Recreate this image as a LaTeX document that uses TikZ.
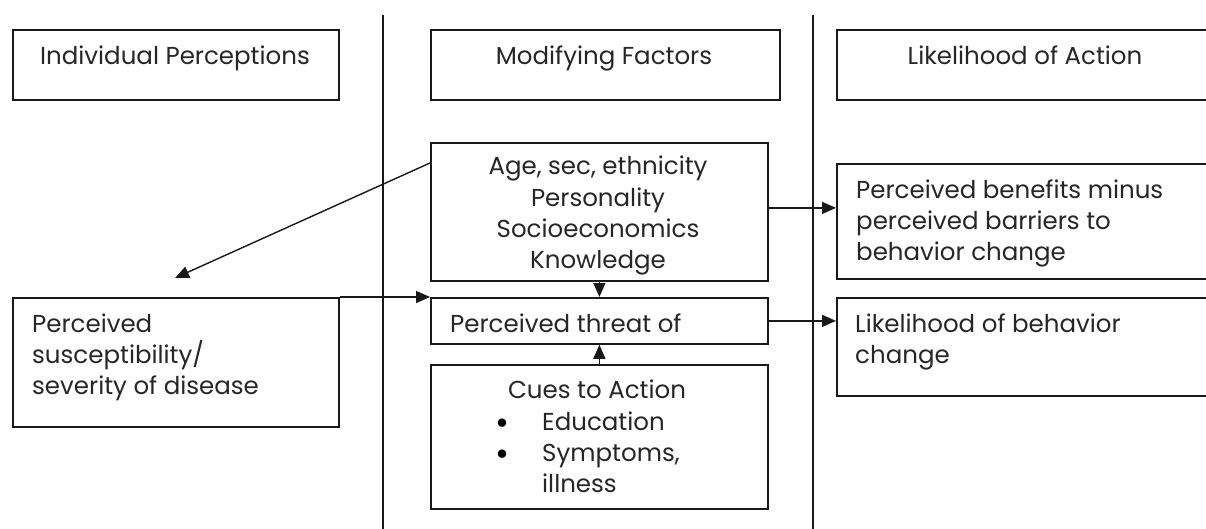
\documentclass[tikz,border=0pt]{standalone}
\usepackage{fontspec}
\setmainfont{Poppins}
\usetikzlibrary{arrows.meta}
\begin{document}
\begin{tikzpicture}[x=1pt,y=-1pt,
  box/.style={draw=black!90, line width=1.8pt, inner sep=0pt, anchor=north west},
  txt/.style={inner sep=0pt, text=black!85, font=\fontsize{24.5}{31}\selectfont},
  bul/.style={inner sep=0pt, text=black, font=\fontsize{34}{31}\selectfont},
  arr/.style={draw=black!90, line width=1.4pt, -{Triangle[length=14pt,width=12pt]}},
  divider/.style={line width=1.5pt, draw=black!90}]
\useasboundingbox (0,0) rectangle (1206,529);
\fill[white] (0,0) rectangle (1206,529);
\clip (0,0) rectangle (1206,529);
% dividers
\coordinate (d1t) at (383,15); \coordinate (d1b) at (383,529);
\coordinate (d2t) at (813,15); \coordinate (d2b) at (813,529);
\draw[divider] (d1t) -- (d1b);
\draw[divider] (d2t) -- (d2b);
% boxes
\node[box, minimum width=326pt, minimum height=70pt] (ip) at (12,29) {};
\node[box, minimum width=349pt, minimum height=70pt] (mf) at (430,29) {};
\node[box, minimum width=400pt, minimum height=70pt] (la) at (836,29) {};
\node[box, minimum width=337pt, minimum height=138pt] (age) at (430,142) {};
\node[box, minimum width=337pt, minimum height=46pt] (thr) at (430,297) {};
\node[box, minimum width=337pt, minimum height=144pt] (cue) at (430,364) {};
\node[box, minimum width=326pt, minimum height=129pt] (sus) at (12,297) {};
\node[box, minimum width=400pt, minimum height=115pt] (ben) at (836,163) {};
\node[box, minimum width=400pt, minimum height=98pt] (lbc) at (836,297) {};
% texts (base anchor of a multi-line node = baseline of its last line)
\node[txt, anchor=base] (tip) at (175,65) {Individual Perceptions};
\node[txt, anchor=base] (tmf) at (604,65) {Modifying Factors};
\node[txt, anchor=base] (tla) at (1025,65) {Likelihood of Action};
\node[txt, anchor=base, align=center] (tage) at (598,268) {Age, sec, ethnicity\\Personality\\Socioeconomics\\Knowledge};
\node[txt, anchor=base west] (tthr) at (450,332) {Perceived threat of};
\node[txt, anchor=base] (tcue) at (597,398) {Cues to Action};
\node[bul, anchor=base west, align=left] (tbul) at (495,465) {•\\•};
\node[txt, anchor=base west, align=left] (tlist) at (542,492) {Education\\Symptoms,\\illness};
\node[txt, anchor=base west, align=left] (tsus) at (32,394) {Perceived\\susceptibility/\\severity of disease};
\node[txt, anchor=base west, align=left] (tben) at (856,260) {Perceived benefits minus\\perceived barriers to\\behavior change};
\node[txt, anchor=base west, align=left] (tlbc) at (855,363) {Likelihood of behavior\\change};
% connectors
\coordinate (susTip) at (175,278);
\draw[arr] ([yshift=-21pt]age.north west) -- (susTip);
\draw[arr] (sus.north east) -- (thr.north west);
\draw[arr] (age.south) -- (thr.north);
\draw[arr] (cue.north) -- (thr.south);
\draw[arr] ([yshift=4pt]age.east) -- ([yshift=4pt]age.east -| ben.west);
\draw[arr] (thr.east) -- (thr.east -| lbc.west);
\end{tikzpicture}
\end{document}
